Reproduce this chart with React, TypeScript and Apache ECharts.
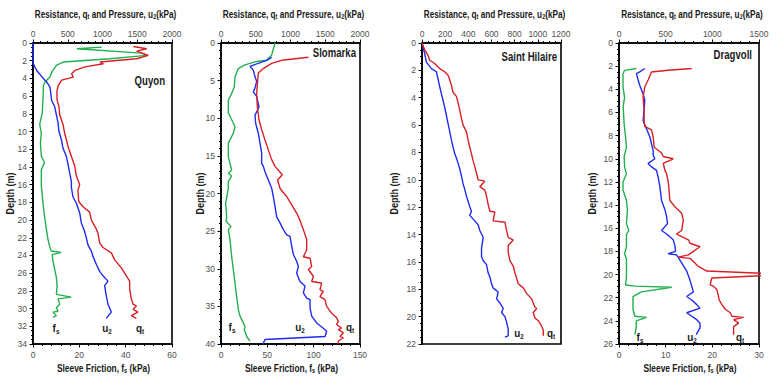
import React, { useEffect, useRef } from 'react';
import * as echarts from 'echarts';

// ---------- data: [value, depth(m)] ----------
// Quyon (qt, u2 on top axis kPa; fs on bottom axis kPa)
const quyonQt = [[1443,0.4],[1636,0.65],[1492,0.92],[1659,1.4],[1492,1.78],[964,2.15],[1012,2.35],[748,2.7],[604,3.1],[556,3.47],[580,3.85],[413,4.2],[364,4.8],[345,5.4],[345,6.4],[374,7.2],[384,8.1],[432,9.2],[456,10.2],[480,10.9],[504,11.7],[552,12.8],[600,13.9],[624,15],[672,16],[647,16.6],[657,17.9],[720,18.5],[815,19.1],[840,20],[910,21],[935,21.5],[960,22.6],[1007,23.1],[1127,23.7],[1175,24.5],[1271,25.4],[1343,26.3],[1391,26.9],[1391,27.8],[1415,28.9],[1439,29.5],[1487,29.7],[1439,30.1],[1511,30.4],[1415,30.8],[1487,31.1]];
const quyonU2 = [[0,0],[0,2.0],[5,2.35],[53,3.1],[148,4.0],[197,4.4],[245,5],[269,6.5],[312,7.2],[336,8.1],[360,9],[374,10],[408,10.9],[432,11.9],[480,12.8],[504,13.7],[528,14.7],[552,15.6],[552,16.3],[576,17.4],[624,18.1],[672,19.2],[695,20.3],[743,21.3],[767,22],[791,22.8],[839,23.5],[863,24.1],[911,25],[959,25.8],[1007,26.3],[1079,26.9],[1031,27.4],[1055,28.6],[1079,29.5],[1127,30.4],[1055,31.1]];
const quyonFs = [[29.7,0.47],[18.9,0.65],[46.9,1.14],[49.1,1.4],[33.2,1.78],[13.1,2.15],[10.2,2.5],[8.1,3.3],[7.3,3.85],[5.2,4.4],[4.5,4.8],[4.3,6.4],[4.0,7.9],[2.9,9.2],[3.6,10.2],[3.2,11.3],[3.6,12.8],[5.0,13.5],[3.6,14.3],[3.6,16.1],[4.3,18.1],[5.0,19.6],[5.8,21.1],[6.5,22.2],[7.2,23],[7.9,23.5],[12.2,23.65],[8.3,23.9],[8.6,24.6],[9.4,25.6],[10.1,26.5],[10.4,27.4],[10.1,28.4],[16.5,28.7],[10.8,28.9],[11.5,29.5],[10.1,29.9],[10.8,30.3],[8.6,30.4],[10.1,30.8],[8.6,31]];

// Slomarka
const slomQt = [[1257,1.9],[873,2.3],[729,2.7],[609,3.4],[537,4],[528,4.9],[513,6.7],[523,8.5],[547,10.2],[585,11.5],[633,12.9],[681,14.2],[729,15.5],[777,16.4],[882,17.5],[815,18.2],[849,19.3],[873,19.6],[945,20.4],[1017,21.5],[1089,22.6],[1137,23.6],[1185,24.8],[1233,26.1],[1233,27.5],[1185,28.4],[1281,28.6],[1305,29.7],[1257,30.1],[1329,31],[1305,31.7],[1448,31.9],[1424,32.8],[1472,33],[1424,33.7],[1496,34.1],[1520,35],[1592,35.9],[1664,36.5],[1688,37],[1664,37.4],[1736,37.9],[1688,38.1],[1760,38.5],[1712,39],[1760,39.2],[1688,39.6],[1688,40]];
const slomU2 = [[729,1.9],[657,2.3],[417,3.1],[465,3.6],[489,4.5],[513,5.1],[489,6],[465,6.5],[513,7.1],[547,8.5],[489,9.6],[499,10.7],[537,12],[561,13.3],[585,14.6],[585,16],[609,16.4],[633,17.1],[681,18.2],[729,19.3],[753,20.4],[777,21.7],[801,23.1],[849,23.9],[897,24.8],[945,25.5],[993,25.7],[1017,27],[1041,28.1],[1089,29],[1113,29.7],[1089,30.6],[1137,31.7],[1209,32.3],[1185,33.2],[1233,33.9],[1281,34.1],[1281,35.2],[1305,36.3],[1377,37.2],[1472,37.9],[1520,38.3],[1496,39],[633,39.4],[609,39.9],[609,40]];
const slomFs = [[58.3,0],[54.7,1.6],[49.3,2.3],[36.7,2.5],[25.9,2.9],[18.7,3.4],[15.1,4.5],[14.4,5.8],[11.5,6.7],[7.9,7.6],[7.9,9.3],[11.5,10.2],[15.1,11.1],[13.3,12],[7.9,13.3],[7.9,15.1],[9.7,16],[11.5,16.9],[7.9,17.3],[11.5,17.7],[7.9,18.4],[7.9,19.3],[5.0,21.3],[6.1,23.1],[5.5,23.7],[10.8,24.4],[7.9,24.8],[9.7,26.1],[11.5,28.4],[13.3,30.1],[15.1,31.9],[16.9,33.7],[18.7,35.4],[20.5,36.3],[24.1,37.2],[25.9,37.7],[25.2,38.1],[27.7,39],[31.3,39.6]];

// Saint Hilaire
const shQt = [[0,0],[23,0.5],[52,0.9],[66,1.26],[110,1.5],[153,1.87],[196,2.1],[225,2.36],[240,2.7],[254,3.1],[268,3.6],[297,3.9],[312,4.4],[326,4.9],[340,5.5],[355,6],[384,6.5],[398,7.1],[412,7.6],[427,8.1],[441,8.6],[456,9.05],[470,9.5],[485,10],[542,10.1],[499,10.5],[542,10.75],[557,11.2],[571,11.8],[586,12.3],[629,12.35],[614,13.0],[716,13.1],[730,13.7],[744,14.2],[788,14.4],[744,14.8],[744,15.3],[759,15.9],[788,16.3],[802,16.8],[817,17.2],[831,17.6],[874,17.9],[903,18.3],[946,18.7],[960,19.0],[975,19.3],[990,19.4],[960,19.7],[975,20.1],[1004,20.3],[1033,20.7],[1047,21.0],[1047,21.4]];
const shU2 = [[0,0],[23,0.78],[38,1.4],[81,1.87],[124,2.1],[138,2.6],[153,3.2],[167,3.7],[182,4.2],[196,4.7],[211,5.3],[225,5.9],[240,6.5],[254,7.1],[268,7.6],[283,8.1],[297,8.4],[312,8.8],[326,9.2],[340,9.7],[355,10.3],[369,10.7],[384,11.2],[412,11.95],[427,12.3],[412,12.6],[456,13.0],[485,13.3],[499,13.7],[528,14.2],[514,15.0],[514,15.6],[528,15.9],[557,16.2],[571,16.8],[586,17.1],[600,17.6],[614,17.9],[658,18.2],[644,18.7],[672,19.0],[701,19.4],[687,19.7],[716,20],[730,20.4],[744,20.9],[744,21.4],[716,21.5]];

// Dragvoll
const drQt = [[779,2.2],[527,2.36],[348,2.5],[312,3.2],[276,3.8],[258,4.7],[269,5.8],[269,6.7],[276,7.2],[348,7.5],[366,8.1],[377,9],[456,9.5],[474,9.8],[581,10],[474,10.4],[492,11],[510,11.3],[528,12],[535,12.6],[545,13.6],[599,14.15],[671,14.7],[689,15.3],[671,16.2],[617,16.5],[743,17],[761,17.3],[868,17.6],[797,18.0],[743,18.3],[635,18.5],[761,18.6],[851,19.3],[940,19.7],[1540,19.9],[1540,20.1],[994,20.3],[976,20.9],[1012,21.0],[1048,21.3],[1066,21.9],[1073,22.2],[1102,22.6],[1138,23.0],[1192,23.3],[1210,23.6],[1335,23.7],[1228,23.9],[1282,24.2],[1228,24.5],[1228,25.2]];
const drU2 = [[276,2.2],[222,2.5],[187,2.65],[205,3.2],[222,3.65],[258,4.4],[276,4.9],[269,5.8],[258,6.7],[294,7.4],[330,8.1],[348,8.7],[366,9.3],[366,9.7],[384,10],[312,10.4],[348,10.7],[402,11],[420,11.6],[438,12.4],[456,13.6],[492,14.4],[510,15],[520,15.6],[456,16.2],[510,16.5],[581,17.0],[599,17.5],[606,18.0],[528,18.2],[617,18.3],[671,19.0],[725,19.7],[761,20.5],[779,21.0],[797,21.5],[725,21.9],[779,22.2],[833,22.6],[868,22.9],[725,23.3],[779,23.6],[833,23.9],[868,24.2],[868,24.6],[833,25.1],[833,25.2]];
const drFs = [[3.7,2.2],[1.2,2.36],[0.86,2.65],[0.86,3.8],[1.2,4.7],[0.9,5.5],[1.1,7],[1.4,8.1],[1.6,9],[1.1,9.8],[1.2,10.7],[1.6,11.3],[0.86,12],[0.86,12.7],[1.6,13.6],[1.8,14.4],[1.6,15.6],[2.1,16.2],[1.6,16.5],[1.6,17.6],[1.2,18.2],[1.6,18.7],[1.6,20.2],[1.4,20.9],[3.4,21.0],[11.3,21.1],[4.8,21.5],[3.0,21.9],[3.0,23],[3.4,23.6],[5.9,23.7],[3.7,24.0],[3.7,24.5],[3.4,25.2]];

// site names, titles and axis ranges
const siteNames = ['Quyon', 'Slomarka', 'Saint Hilaire', 'Dragvoll'];
const topTitle = 'Resistance, q{s|t} and Pressure, u{s|2}(kPa)';
const bottomTitle = 'Sleeve Friction, f{s|s} (kPa)';
const depthTitle = 'Depth (m)';
const depthMax = [34, 40, 22, 26];
const depthStep = [2, 5, 2, 2];
const topMax = [2000, 2000, 1200, 1500];
const topStep = [500, 500, 200, 500];
const botMax = [60, 150, 0, 30];
const botStep = [20, 50, 0, 10];

// ---------- layout / style ----------
const FONT = "'Liberation Sans', Arial, sans-serif";
const RED = '#d91f26';
const BLUE = '#1f2bf0';
const GREEN = '#22b04e';
const LBL = '#505050';
const INK = '#1a1a1a';

const layout = [
  { left: 33, width: 139, depthX: 10, nameX: 165, nameY: 81, fs: 56, u2: 107, qt: 140, lblY: 328 },
  { left: 221, width: 139, depthX: 200, nameX: 356, nameY: 53, fs: 232, u2: 300, qt: 350, lblY: 327 },
  { left: 422, width: 139, depthX: 394, nameX: 557, nameY: 57, fs: -1, u2: 519, qt: 551, lblY: 333 },
  { left: 619, width: 140, depthX: 592, nameX: 752, nameY: 55, fs: 640, u2: 692, qt: 740, lblY: 337 },
];
const TOP = 43;
const HEIGHT = 301;

const subRich = {
  b: { fontFamily: FONT, fontSize: 11, fontWeight: 'bold', fill: INK },
  s: { fontFamily: FONT, fontSize: 7, fontWeight: 'bold', fill: INK, padding: [6, 0, 0, 0] },
};
const titleRich = {
  s: { fontFamily: FONT, fontSize: 7, fontWeight: 'bold', fill: INK, padding: [5, 0, 0, 0] },
};

function buildOption() {
  const grid: any[] = [];
  const xAxis: any[] = [];
  const yAxis: any[] = [];
  const series: any[] = [];
  const graphic: any[] = [];
  const sets = [
    [quyonQt, quyonU2, quyonFs],
    [slomQt, slomU2, slomFs],
    [shQt, shU2, null],
    [drQt, drU2, drFs],
  ];
  const axisLine = { show: true, onZero: false, lineStyle: { color: '#000', width: 1.6 } };
  const axisLabel = { color: LBL, fontSize: 8.5, fontFamily: FONT, formatter: (v: number) => String(v) };
  const tick = { show: true, inside: false, length: 3.5, lineStyle: { color: '#000' } };
  const minor = (n: number) => ({ show: true, splitNumber: n, length: 2, lineStyle: { color: '#000' } });

  layout.forEach((L, i) => {
    grid.push({ left: L.left, top: TOP, width: L.width, height: HEIGHT, show: true, borderColor: '#000', borderWidth: 1.6, backgroundColor: 'transparent' });
    yAxis.push({
      gridIndex: i, type: 'value', inverse: true, min: 0, max: depthMax[i], interval: depthStep[i],
      axisLine, axisTick: tick, minorTick: minor(depthStep[i] === 5 ? 5 : 4),
      splitLine: { show: false }, axisLabel: { ...axisLabel, margin: 6 },
    });
    const topIdx = xAxis.length;
    xAxis.push({
      gridIndex: i, type: 'value', position: 'top', min: 0, max: topMax[i], interval: topStep[i],
      axisLine, axisTick: tick, minorTick: minor(topStep[i] === 200 ? 4 : 5),
      splitLine: { show: false }, axisLabel: { ...axisLabel, margin: 5 },
    });
    let botIdx = -1;
    if (botMax[i] > 0) {
      botIdx = xAxis.length;
      xAxis.push({
        gridIndex: i, type: 'value', position: 'bottom', min: 0, max: botMax[i], interval: botStep[i],
        axisLine, axisTick: tick, minorTick: minor(5),
        splitLine: { show: false }, axisLabel: { ...axisLabel, margin: 6 },
      });
    }
    const [qt, u2, fs] = sets[i];
    const common = { type: 'line', yAxisIndex: i, showSymbol: false, symbol: 'none', silent: true };
    if (fs && botIdx >= 0) {
      series.push({ ...common, name: siteNames[i] + ' fs', xAxisIndex: botIdx, data: fs, lineStyle: { color: GREEN, width: 1.4 }, itemStyle: { color: GREEN } });
    }
    series.push({ ...common, name: siteNames[i] + ' u2', xAxisIndex: topIdx, data: u2, lineStyle: { color: BLUE, width: 1.4 }, itemStyle: { color: BLUE } });
    series.push({ ...common, name: siteNames[i] + ' qt', xAxisIndex: topIdx, data: qt, lineStyle: { color: RED, width: 1.4 }, itemStyle: { color: RED } });

    const cx = L.left + L.width / 2;
    graphic.push({
      type: 'text', x: cx + 3, y: 14, scaleX: 0.78,
      style: { text: topTitle, align: 'center', verticalAlign: 'middle', fontFamily: FONT, fontSize: 10.5, fontWeight: 'bold', fill: INK, rich: titleRich },
    });
    if (botMax[i] > 0) {
      graphic.push({
        type: 'text', x: cx + 1, y: 368, scaleX: 0.8,
        style: { text: bottomTitle, align: 'center', verticalAlign: 'middle', fontFamily: FONT, fontSize: 10.5, fontWeight: 'bold', fill: INK, rich: titleRich },
      });
    }
    graphic.push({
      type: 'text', x: L.depthX, y: TOP + HEIGHT / 2, rotation: Math.PI / 2, scaleX: 0.9,
      style: { text: depthTitle, align: 'center', verticalAlign: 'middle', fontFamily: FONT, fontSize: 10, fontWeight: 'bold', fill: INK },
    });
    graphic.push({
      type: 'text', x: L.nameX, y: L.nameY, scaleX: 0.8,
      style: { text: siteNames[i], align: 'right', verticalAlign: 'middle', fontFamily: FONT, fontSize: 12, fontWeight: 'bold', fill: INK },
    });
    const lbl = (x: number, a: string, s: string) => graphic.push({
      type: 'text', x, y: L.lblY, scaleX: 0.9,
      style: { text: `{b|${a}}{s|${s}}`, align: 'center', verticalAlign: 'middle', rich: subRich },
    });
    if (L.fs > 0) lbl(L.fs, 'f', 's');
    lbl(L.u2, 'u', '2');
    lbl(L.qt, 'q', 't');
  });

  return { animation: false, backgroundColor: '#fff', grid, xAxis, yAxis, series, graphic };
}

export default function App() {
  const ref = useRef<HTMLDivElement>(null);
  useEffect(() => {
    const chart = echarts.init(ref.current!, null, { renderer: 'svg' });
    chart.setOption(buildOption() as any);
    return () => chart.dispose();
  }, []);
  return <div ref={ref} style={{ position: 'fixed', left: 0, top: 0, width: 781, height: 381, background: '#fff' }} />;
}
